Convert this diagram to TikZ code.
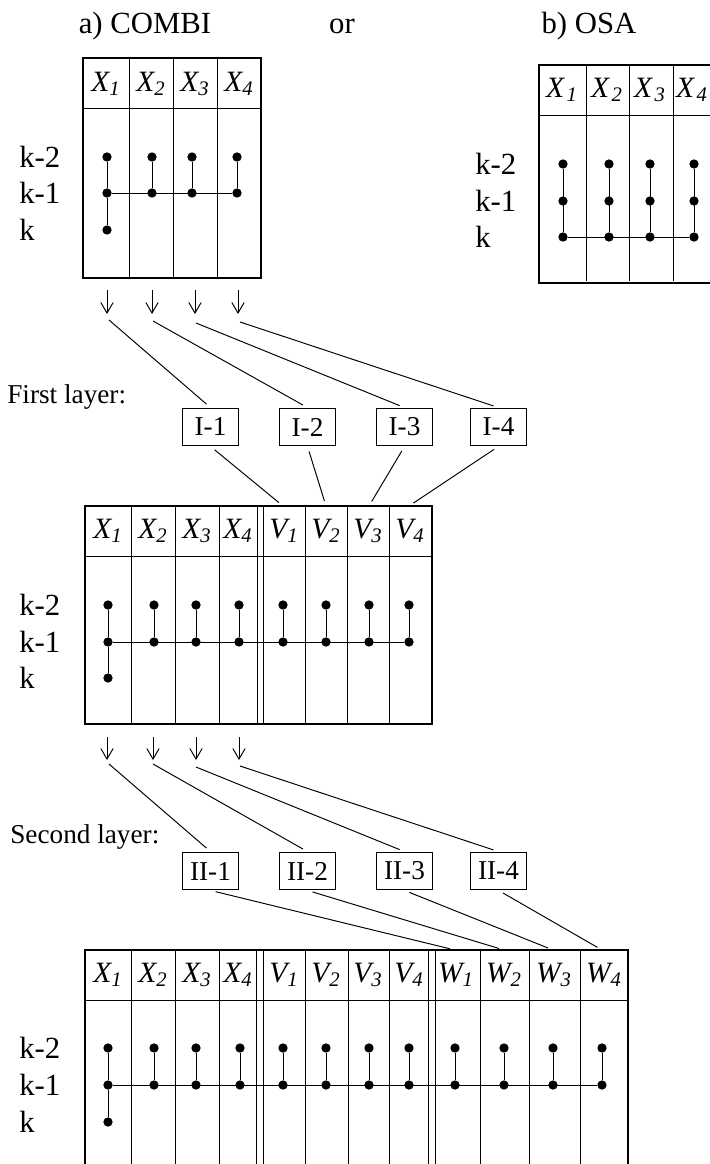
\documentclass[tikz,border=0pt]{standalone}
\usepackage{fontspec}
\setmainfont{Liberation Serif}
\usetikzlibrary{calc, arrows.meta}

\tikzset{
	dot/.style={circle, fill=black, inner sep=0pt, minimum size=5.3pt},
	frame/.style={line width=0.9pt},
	grid line/.style={line width=0.55pt},
	title/.style={font=\fontsize{17.5}{20}\selectfont, anchor=base, inner sep=0pt},
	head/.style={font=\fontsize{16.8}{18}\selectfont\itshape, inner sep=0pt},
	lag/.style={font=\fontsize{17.5}{19}\selectfont, anchor=west, inner sep=0pt},
	layer/.style={font=\fontsize{15.5}{17}\selectfont, anchor=west, inner sep=0pt},
	unit/.style={draw, line width=0.6pt, minimum width=32.3pt, minimum height=21.5pt, inner sep=0pt, font=\fontsize{15.5}{17}\selectfont},
	link/.style={line width=0.55pt, shorten >=3pt}
}

\begin{document}
\begin{tikzpicture}[x=0.02cm, y=-0.02cm, >={Straight Barb[length=6pt, width=7pt]}]
		\useasboundingbox (0,0) rectangle (710,1164);

		%titles
		\node [title] (title a) at (145,33) {a) COMBI};
		\node [title] (title or) at (342,33) {or};
		\node [title] (title b) at (589,33) {b) OSA};

		%table a) COMBI
		\draw [frame] (83,58) rectangle (261,278);
		\draw [grid line] (82,108) -- (261,108);
		\foreach \x in {129,173,217}
			\draw [grid line] (\x,58) -- (\x,278);
		\foreach \x [count=\i] in {106,151,195,239}
			\node [head] (a head\i) at (\x,84) {X\textsubscript{\i}};
		\foreach \y/\t [count=\i] in {157/k-2,193/k-1,230/k}
			\node [lag] (a lag\i) at (19,\y) {\t};
		\foreach \x [count=\i] in {107,152,192,237} {
			\node [dot] (a top\i) at (\x,157) {};
			\node [dot] (a mid\i) at (\x,193) {};
			\draw [grid line] (a top\i) -- (a mid\i);
		}
		\node [dot] (a low1) at (107,230) {};
		\draw [grid line] (a mid1) -- (a low1);
		\draw [grid line] (a mid1) -- (a mid4);

		%table b) OSA
		\draw [line width=1.4pt] (539,65) rectangle (730,283);
		\draw [grid line] (539,115) -- (730,115);
		\foreach \x in {586,629,673}
			\draw [grid line] (\x,65) -- (\x,281);
		\foreach \x [count=\i] in {562,607,650,692}
			\node [head] (o head\i) at (\x,90) {X\kern1.5pt\textsubscript{\i}};
		\foreach \y/\t [count=\i] in {164/k-2,201/k-1,237/k}
			\node [lag] (o lag\i) at (475,\y) {\t};
		\foreach \x [count=\i] in {563,609,650,694} {
			\node [dot] (o top\i) at (\x,164) {};
			\node [dot] (o mid\i) at (\x,201) {};
			\node [dot] (o low\i) at (\x,237) {};
			\draw [grid line] (o top\i) -- (o low\i);
		}
		\draw [grid line] (o low1) -- (o low4);

		%arrows below table a)
		\foreach \x/\s/\t [count=\i] in {107/109/320,152/153/321,195/196/323,238/240/322} {
			\coordinate (a out\i) at (\x,290);
			\coordinate (a tip\i) at (\x,314);
			\coordinate (a start\i) at (\s,\t);
			\draw [->, grid line] (a out\i) -- (a tip\i);
		}

		%first layer
		\node [layer] (first label) at (7,397) {First layer:};
		\foreach \x [count=\i] in {210.5,307.5,404.5,498.5}
			\node [unit] (first \i) at (\x,427) {I-\i};
		\foreach \i in {1,...,4}
			\draw [link] (a start\i) -- (first \i.north);

		%table after first layer
		\draw [frame] (85,506) rectangle (432,724);
		\draw [grid line] (84,556) -- (432,556);
		\foreach \x in {131,175,219,257,263,305,347,389}
			\draw [grid line] (\x,506) -- (\x,724);
		\foreach \x/\v/\s [count=\i] in {108/X/1,153/X/2,197/X/3,238/X/4,284/V/1,326/V/2,368/V/3,410/V/4}
			\node [head] (b head\i) at (\x,531) {\v\textsubscript{\s}};
		\foreach \x [count=\i] in {283,326,369,409}
			\coordinate (b top v\i) at (\x,506);
		\foreach \i in {1,...,4}
			\draw [link, shorten <=3pt] (first \i.south) -- (b top v\i);
		\foreach \y/\t [count=\i] in {605/k-2,642/k-1,678/k}
			\node [lag] (b lag\i) at (19,\y) {\t};
		\foreach \x [count=\i] in {108,154,196,239,283,326,369,409} {
			\node [dot] (b top\i) at (\x,605) {};
			\node [dot] (b mid\i) at (\x,642) {};
			\draw [grid line] (b top\i) -- (b mid\i);
		}
		\node [dot] (b low1) at (108,678) {};
		\draw [grid line] (b mid1) -- (b low1);
		\draw [grid line] (b mid1) -- (b mid8);

		%arrows below first layer table
		\foreach \x/\s/\t [count=\i] in {107/109/764,153/153/764,196/196/767,239/240/766} {
			\coordinate (b out\i) at (\x,737);
			\coordinate (b tip\i) at (\x,760);
			\coordinate (b start\i) at (\s,\t);
			\draw [->, grid line] (b out\i) -- (b tip\i);
		}

		%second layer
		\node [layer] (second label) at (10,837) {Second layer:};
		\foreach \x [count=\i] in {210.5,307.5,404.5,498.5}
			\node [unit] (second \i) at (\x,871) {II-\i};
		\foreach \i in {1,...,4}
			\draw [link] (b start\i) -- (second \i.north);

		%table after second layer
		\draw [frame] (85,1180) -- (85,950) -- (628,950) -- (628,1180);
		\draw [grid line] (84,1000) -- (628,1000);
		\foreach \x in {131,175,219,256,263,305,348,389,428,435,480,529,580}
			\draw [grid line] (\x,950) -- (\x,1180);
		\foreach \x/\v/\s [count=\i] in {108/X/1,153/X/2,197/X/3,238/X/4,284/V/1,326/V/2,368/V/3,409/V/4,456/W/1,504/W/2,554/W/3,604/W/4}
			\node [head] (c head\i) at (\x,975) {\v\textsubscript{\s}};
		\foreach \x [count=\i] in {455,504,553,602}
			\coordinate (c top w\i) at (\x,950);
		\foreach \i in {1,...,4}
			\draw [link, shorten <=3pt] (second \i.south) -- (c top w\i);
		\foreach \y/\t [count=\i] in {1048/k-2,1085/k-1,1122/k}
			\node [lag] (c lag\i) at (19,\y) {\t};
		\foreach \x [count=\i] in {108,154,196,240,283,326,369,409,455,504,553,602} {
			\node [dot] (c top\i) at (\x,1048) {};
			\node [dot] (c mid\i) at (\x,1085) {};
			\draw [grid line] (c top\i) -- (c mid\i);
		}
		\node [dot] (c low1) at (108,1122) {};
		\draw [grid line] (c mid1) -- (c low1);
		\draw [grid line] (c mid1) -- (c mid12);

	\end{tikzpicture}
\end{document}
